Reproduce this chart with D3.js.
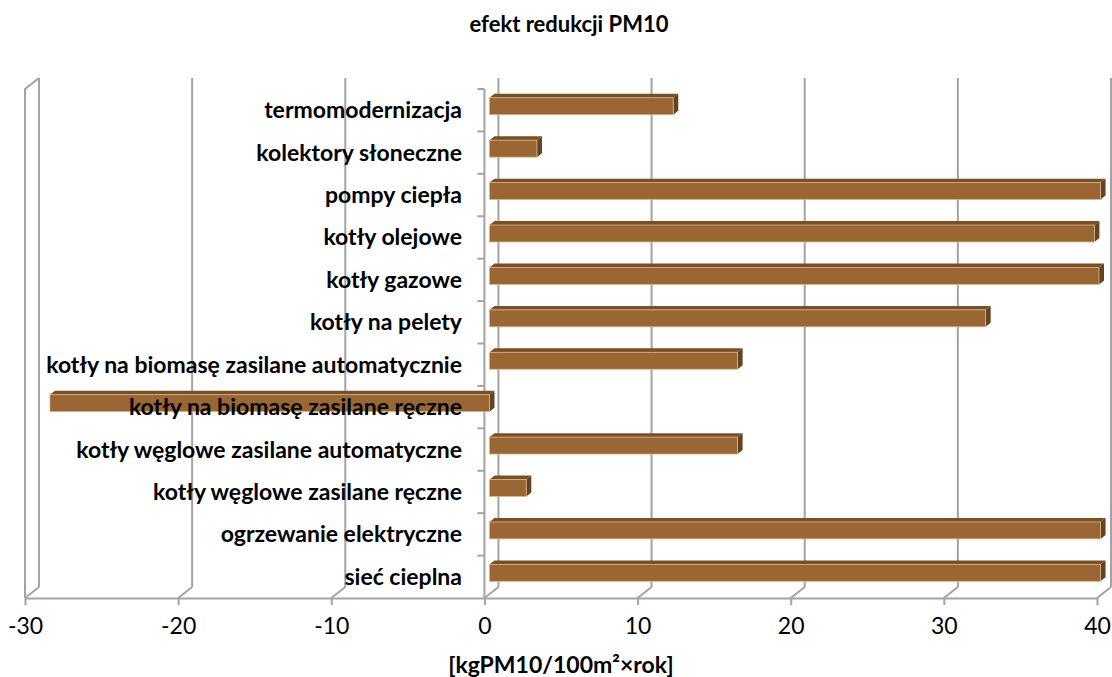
<!DOCTYPE html>
<html>
<head>
<meta charset="utf-8">
<script src="https://cdn.jsdelivr.net/npm/d3@7"></script>
<style>
body { margin: 0; background: #fff; }
text { font-family: Lato, "Open Sans", sans-serif; fill: #000; }
</style>
</head>
<body>
<svg id="chart" width="1112" height="677"></svg>
<script>
// chart data, top to bottom as in the picture
var categories = ["termomodernizacja", "kolektory słoneczne", "pompy ciepła", "kotły olejowe",
    "kotły gazowe", "kotły na pelety", "kotły na biomasę zasilane automatycznie",
    "kotły na biomasę zasilane ręczne", "kotły węglowe zasilane automatyczne",
    "kotły węglowe zasilane ręczne", "ogrzewanie elektryczne", "sieć cieplna"];
var values = [12.0, 3.1, 39.9, 39.5, 39.8, 32.4, 16.2, -28.7, 16.2, 2.4, 39.9, 39.9];
var xTicks = [-30, -20, -10, 0, 10, 20, 30, 40];
var title = "efekt redukcji PM10";
var xTitle = "[kgPM10/100m²×rok]";

var svg = d3.select("#chart");

// front plane of the 3d box
var x = d3.scaleLinear().domain([-30, 40]).range([25, 1097]);
var y = d3.scaleBand().domain(categories).range([89, 598])
    .paddingInner(0.6).paddingOuter(0.3);

// oblique depth: d = 0 front, d = 1 back wall
var depth = { dx: 14, dy: -11 };
var barFront = 0.36, barBack = 0.72;

function px(v, d) { return x(v) + d * depth.dx; }
function py(yy, d) { return yy + d * depth.dy; }

var wallColor = "#a3a3a3";

// back wall gridlines
svg.selectAll(".grid").data(xTicks)
    .enter().append("line")
    .attr("class", "grid")
    .attr("x1", function (d) { return px(d, 1); })
    .attr("x2", function (d) { return px(d, 1); })
    .attr("y1", py(y.range()[0], 1))
    .attr("y2", py(y.range()[1], 1))
    .style("stroke", wallColor)
    .style("stroke-width", 2);

// floor gridlines
svg.selectAll(".floor").data(xTicks)
    .enter().append("line")
    .attr("class", "floor")
    .attr("x1", function (d) { return px(d, 0); })
    .attr("x2", function (d) { return px(d, 1); })
    .attr("y1", py(y.range()[1], 0))
    .attr("y2", py(y.range()[1], 1))
    .style("stroke", wallColor)
    .style("stroke-width", 2);

// left side wall
var xl = xTicks[0];
svg.append("path")
    .attr("d", "M" + px(xl, 0) + "," + py(y.range()[1], 0) +
        "L" + px(xl, 0) + "," + py(y.range()[0], 0) +
        "L" + px(xl, 1) + "," + py(y.range()[0], 1))
    .style("fill", "none")
    .style("stroke", wallColor)
    .style("stroke-width", 2);

// value axis
var xAxis = d3.axisBottom(x).tickValues(xTicks).tickSize(7).tickSizeOuter(0).tickPadding(13);
var gx = svg.append("g")
    .attr("transform", "translate(0," + y.range()[1] + ")")
    .call(xAxis);
gx.select(".domain").style("stroke", wallColor).style("stroke-width", 2);
gx.selectAll(".tick line").style("stroke", wallColor).style("stroke-width", 2);
gx.selectAll(".tick text")
    .style("font-size", "23px")
    .text(function (d) { return d; });

// category axis on the front plane at 0
svg.append("line")
    .attr("x1", x(0)).attr("x2", x(0))
    .attr("y1", y.range()[0]).attr("y2", y.range()[1])
    .style("stroke", wallColor)
    .style("stroke-width", 2);

var bounds = categories.map(function (c, i) { return y.range()[0] + i * y.step(); });
svg.selectAll(".ctick").data(bounds)
    .enter().append("line")
    .attr("class", "ctick")
    .attr("x1", x(0) - 7).attr("x2", x(0))
    .attr("y1", function (d) { return d; })
    .attr("y2", function (d) { return d; })
    .style("stroke", wallColor)
    .style("stroke-width", 2);

// bars
var bars = categories.map(function (c, i) {
    return { name: c, v0: Math.min(0, values[i]), v1: Math.max(0, values[i]),
        y0: y(c), y1: y(c) + y.bandwidth() };
});

function pts(list) {
    return list.map(function (p) { return p.join(","); }).join(" ");
}

var g = svg.selectAll(".bar").data(bars).enter().append("g").attr("class", "bar");

g.append("polygon")
    .attr("points", function (d) {
        return pts([[px(d.v0, barFront), py(d.y0, barFront)], [px(d.v1, barFront), py(d.y0, barFront)],
            [px(d.v1, barBack), py(d.y0, barBack)], [px(d.v0, barBack), py(d.y0, barBack)]]);
    })
    .style("fill", "#7a4f26");

g.append("polygon")
    .attr("points", function (d) {
        return pts([[px(d.v1, barFront), py(d.y0, barFront)], [px(d.v1, barBack), py(d.y0, barBack)],
            [px(d.v1, barBack), py(d.y1, barBack)], [px(d.v1, barFront), py(d.y1, barFront)]]);
    })
    .style("fill", "#664220");

g.append("rect")
    .attr("x", function (d) { return px(d.v0, barFront); })
    .attr("y", function (d) { return py(d.y0, barFront); })
    .attr("width", function (d) { return x(d.v1) - x(d.v0); })
    .attr("height", y.bandwidth())
    .style("fill", "#9a6633")
    .style("stroke", "#d9b68e")
    .style("stroke-width", 0.8);

// category labels
svg.selectAll(".label").data(categories)
    .enter().append("text")
    .attr("class", "label")
    .attr("x", 462)
    .attr("y", function (d) { return y(d) + y.bandwidth() / 2 + 8; })
    .attr("text-anchor", "end")
    .style("font-size", "23px")
    .style("font-weight", "bold")
    .text(function (d) { return d; });

// titles
svg.append("text")
    .attr("x", 569).attr("y", 32)
    .attr("text-anchor", "middle")
    .style("font-size", "22px")
    .style("font-weight", "bold")
    .text(title);

svg.append("text")
    .attr("x", 561).attr("y", 673)
    .attr("text-anchor", "middle")
    .style("font-size", "23px")
    .style("font-weight", "bold")
    .text(xTitle);
</script>
</body>
</html>
